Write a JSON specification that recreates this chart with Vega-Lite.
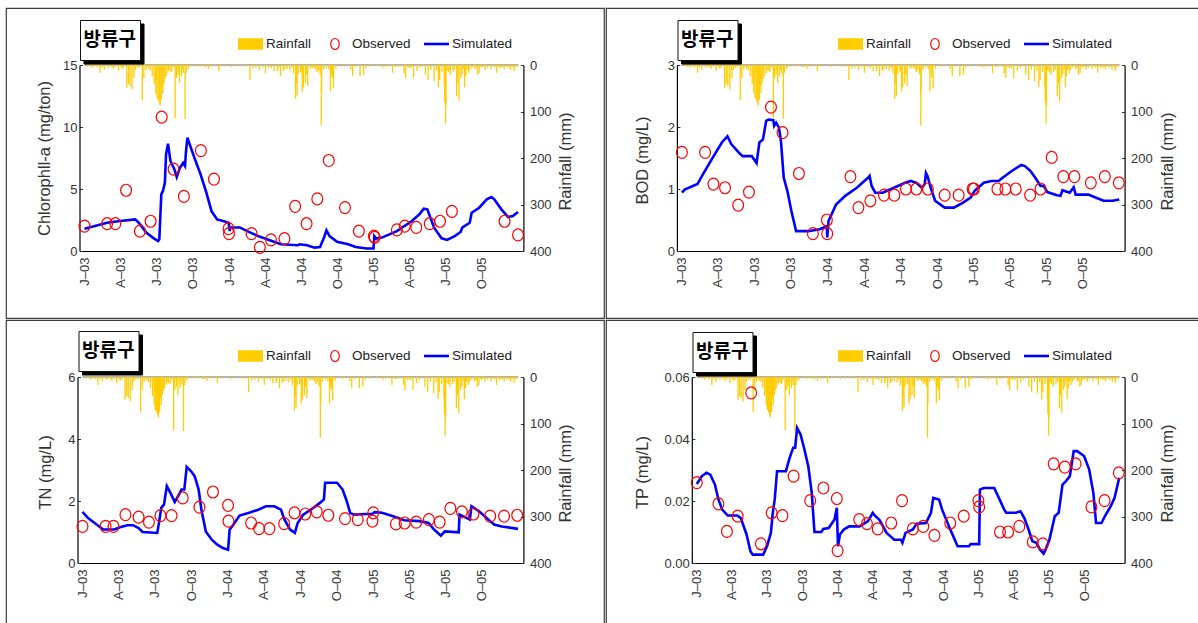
{
  "$schema": "https://vega.github.io/schema/vega-lite/v6.json",
  "background": "#ffffff",
  "padding": {"left": 5, "top": 7, "right": 0, "bottom": 0},
  "columns": 2,
  "spacing": 0,
  "datasets": {
    "rain": [
      {"d":"2003-01-08","r":3},{"d":"2003-01-15","r":4},{"d":"2003-01-21","r":6},{"d":"2003-01-28","r":3},{"d":"2003-02-02","r":5},{"d":"2003-02-09","r":17},{"d":"2003-02-14","r":6},{"d":"2003-02-20","r":10},{"d":"2003-03-02","r":6},{"d":"2003-03-08","r":4},{"d":"2003-03-12","r":5},{"d":"2003-03-16","r":8},{"d":"2003-03-22","r":4},{"d":"2003-03-28","r":13},{"d":"2003-04-03","r":5},{"d":"2003-04-06","r":8},{"d":"2003-04-10","r":6},{"d":"2003-04-18","r":49},{"d":"2003-04-22","r":41},{"d":"2003-04-26","r":45},{"d":"2003-05-01","r":52},{"d":"2003-05-06","r":28},{"d":"2003-05-10","r":10},{"d":"2003-05-15","r":6},{"d":"2003-05-20","r":5},{"d":"2003-05-27","r":76},{"d":"2003-05-31","r":28},{"d":"2003-06-05","r":10},{"d":"2003-06-08","r":4},{"d":"2003-06-12","r":8},{"d":"2003-06-16","r":12},{"d":"2003-06-21","r":24},{"d":"2003-06-26","r":41},{"d":"2003-06-30","r":60},{"d":"2003-07-01","r":35},{"d":"2003-07-03","r":71},{"d":"2003-07-06","r":76},{"d":"2003-07-09","r":82},{"d":"2003-07-11","r":87},{"d":"2003-07-14","r":75},{"d":"2003-07-16","r":45},{"d":"2003-07-18","r":60},{"d":"2003-07-21","r":39},{"d":"2003-07-23","r":30},{"d":"2003-07-26","r":24},{"d":"2003-07-31","r":17},{"d":"2003-08-02","r":10},{"d":"2003-08-05","r":13},{"d":"2003-08-09","r":15},{"d":"2003-08-13","r":6},{"d":"2003-08-18","r":114},{"d":"2003-08-21","r":28},{"d":"2003-08-25","r":21},{"d":"2003-08-27","r":12},{"d":"2003-08-29","r":39},{"d":"2003-09-03","r":24},{"d":"2003-09-05","r":9},{"d":"2003-09-08","r":17},{"d":"2003-09-12","r":116},{"d":"2003-09-15","r":17},{"d":"2003-09-20","r":8},{"d":"2003-09-24","r":4},{"d":"2003-10-05","r":3},{"d":"2003-10-14","r":4},{"d":"2003-10-20","r":3},{"d":"2003-10-30","r":4},{"d":"2003-11-03","r":5},{"d":"2003-11-10","r":8},{"d":"2003-11-18","r":4},{"d":"2003-11-25","r":3},{"d":"2003-12-06","r":13},{"d":"2003-12-12","r":4},{"d":"2003-12-20","r":3},
      {"d":"2004-01-08","r":5},{"d":"2004-01-20","r":3},{"d":"2004-02-06","r":4},{"d":"2004-02-15","r":4},{"d":"2004-02-23","r":32},{"d":"2004-03-02","r":8},{"d":"2004-03-09","r":6},{"d":"2004-03-18","r":10},{"d":"2004-03-27","r":5},{"d":"2004-04-02","r":17},{"d":"2004-04-10","r":5},{"d":"2004-04-17","r":7},{"d":"2004-04-24","r":13},{"d":"2004-05-02","r":13},{"d":"2004-05-05","r":5},{"d":"2004-05-10","r":24},{"d":"2004-05-17","r":13},{"d":"2004-05-21","r":9},{"d":"2004-05-27","r":8},{"d":"2004-06-03","r":12},{"d":"2004-06-08","r":6},{"d":"2004-06-12","r":18},{"d":"2004-06-17","r":73},{"d":"2004-06-19","r":40},{"d":"2004-06-21","r":66},{"d":"2004-06-24","r":20},{"d":"2004-06-30","r":16},{"d":"2004-07-01","r":10},{"d":"2004-07-04","r":57},{"d":"2004-07-07","r":48},{"d":"2004-07-12","r":39},{"d":"2004-07-15","r":21},{"d":"2004-07-18","r":45},{"d":"2004-07-25","r":8},{"d":"2004-07-29","r":6},{"d":"2004-08-02","r":6},{"d":"2004-08-06","r":9},{"d":"2004-08-10","r":15},{"d":"2004-08-14","r":12},{"d":"2004-08-18","r":20},{"d":"2004-08-21","r":130},{"d":"2004-08-22","r":57},{"d":"2004-08-27","r":10},{"d":"2004-09-03","r":6},{"d":"2004-09-09","r":9},{"d":"2004-09-13","r":57},{"d":"2004-09-16","r":21},{"d":"2004-09-18","r":28},{"d":"2004-09-21","r":50},{"d":"2004-09-27","r":8},{"d":"2004-10-10","r":3},{"d":"2004-10-18","r":4},{"d":"2004-11-03","r":9},{"d":"2004-11-08","r":24},{"d":"2004-11-15","r":5},{"d":"2004-11-27","r":24},{"d":"2004-12-06","r":21},{"d":"2004-12-12","r":6},{"d":"2004-12-22","r":4},
      {"d":"2005-01-10","r":3},{"d":"2005-01-18","r":4},{"d":"2005-01-26","r":6},{"d":"2005-02-03","r":4},{"d":"2005-02-10","r":3},{"d":"2005-02-17","r":17},{"d":"2005-02-25","r":5},{"d":"2005-03-03","r":4},{"d":"2005-03-09","r":3},{"d":"2005-03-18","r":17},{"d":"2005-03-22","r":28},{"d":"2005-03-28","r":6},{"d":"2005-04-01","r":5},{"d":"2005-04-05","r":7},{"d":"2005-04-11","r":28},{"d":"2005-04-20","r":13},{"d":"2005-04-27","r":6},{"d":"2005-05-03","r":3},{"d":"2005-05-11","r":21},{"d":"2005-05-18","r":32},{"d":"2005-05-25","r":10},{"d":"2005-06-02","r":35},{"d":"2005-06-08","r":12},{"d":"2005-06-13","r":48},{"d":"2005-06-16","r":32},{"d":"2005-06-22","r":15},{"d":"2005-06-28","r":46},{"d":"2005-06-29","r":80},{"d":"2005-07-01","r":126},{"d":"2005-07-02","r":87},{"d":"2005-07-05","r":12},{"d":"2005-07-09","r":15},{"d":"2005-07-13","r":21},{"d":"2005-07-20","r":15},{"d":"2005-07-24","r":10},{"d":"2005-07-29","r":67},{"d":"2005-08-01","r":39},{"d":"2005-08-04","r":77},{"d":"2005-08-09","r":28},{"d":"2005-08-12","r":20},{"d":"2005-08-15","r":8},{"d":"2005-08-18","r":48},{"d":"2005-08-21","r":24},{"d":"2005-08-24","r":10},{"d":"2005-08-28","r":17},{"d":"2005-09-01","r":10},{"d":"2005-09-06","r":6},{"d":"2005-09-13","r":9},{"d":"2005-09-16","r":7},{"d":"2005-09-20","r":21},{"d":"2005-09-24","r":17},{"d":"2005-09-28","r":5},{"d":"2005-10-01","r":5},{"d":"2005-10-04","r":4},{"d":"2005-10-09","r":10},{"d":"2005-10-15","r":6},{"d":"2005-10-24","r":9},{"d":"2005-10-29","r":4},{"d":"2005-11-02","r":5},{"d":"2005-11-07","r":17},{"d":"2005-11-12","r":4},{"d":"2005-11-16","r":6},{"d":"2005-11-21","r":6},{"d":"2005-11-26","r":9},{"d":"2005-12-03","r":5},{"d":"2005-12-08","r":6},{"d":"2005-12-13","r":10},{"d":"2005-12-17","r":4},{"d":"2005-12-21","r":13},{"d":"2005-12-25","r":4},{"d":"2005-12-29","r":3}
    ],
    "frame": [{"a": "2003-01-01", "b": "2006-01-01", "z": 0}],
    "chl_obs": [
      {"d":"2003-01-01","v":2.0},{"d":"2003-02-27","v":2.2},{"d":"2003-03-20","v":2.2},{"d":"2003-04-16","v":4.9},{"d":"2003-05-21","v":1.6},{"d":"2003-06-17","v":2.4},{"d":"2003-07-15","v":10.8},{"d":"2003-08-14","v":6.6},{"d":"2003-09-09","v":4.4},{"d":"2003-10-22","v":8.1},{"d":"2003-11-24","v":5.8},{"d":"2003-12-31","v":1.8},{"d":"2004-01-01","v":1.4},{"d":"2004-02-27","v":1.4},{"d":"2004-03-19","v":0.3},{"d":"2004-04-16","v":0.9},{"d":"2004-05-20","v":1.0},{"d":"2004-06-16","v":3.6},{"d":"2004-07-15","v":2.2},{"d":"2004-08-11","v":4.2},{"d":"2004-09-09","v":7.3},{"d":"2004-10-20","v":3.5},{"d":"2004-11-24","v":1.6},{"d":"2005-01-01","v":1.2},{"d":"2005-01-03","v":1.1},{"d":"2005-02-28","v":1.7},{"d":"2005-03-20","v":2.0},{"d":"2005-04-18","v":1.9},{"d":"2005-05-22","v":2.2},{"d":"2005-06-17","v":2.4},{"d":"2005-07-17","v":3.2},{"d":"2005-11-27","v":2.4},{"d":"2005-12-31","v":1.3}
    ],
    "chl_sim": [
      {"d":"2003-01-01","v":1.8},{"d":"2003-01-25","v":2.0},{"d":"2003-02-27","v":2.28},{"d":"2003-04-01","v":2.42},{"d":"2003-05-09","v":2.55},{"d":"2003-05-18","v":2.28},{"d":"2003-06-06","v":1.48},{"d":"2003-06-25","v":1.02},{"d":"2003-07-06","v":0.8},{"d":"2003-07-09","v":0.94},{"d":"2003-07-14","v":4.57},{"d":"2003-07-18","v":4.84},{"d":"2003-07-23","v":5.5},{"d":"2003-07-26","v":7.8},{"d":"2003-07-31","v":8.66},{"d":"2003-08-06","v":7.26},{"d":"2003-08-16","v":6.6},{"d":"2003-08-22","v":5.97},{"d":"2003-08-30","v":6.7},{"d":"2003-09-07","v":7.1},{"d":"2003-09-12","v":6.85},{"d":"2003-09-14","v":7.9},{"d":"2003-09-18","v":9.14},{"d":"2003-09-27","v":8.3},{"d":"2003-10-07","v":7.4},{"d":"2003-10-21","v":6.2},{"d":"2003-11-04","v":4.8},{"d":"2003-11-18","v":3.2},{"d":"2003-12-02","v":2.55},{"d":"2003-12-17","v":2.42},{"d":"2003-12-31","v":2.28},{"d":"2004-01-03","v":1.6},{"d":"2004-01-04","v":1.9},{"d":"2004-01-28","v":1.9},{"d":"2004-02-16","v":1.6},{"d":"2004-03-15","v":1.2},{"d":"2004-04-13","v":0.86},{"d":"2004-05-11","v":0.54},{"d":"2004-06-23","v":0.46},{"d":"2004-06-27","v":0.54},{"d":"2004-07-16","v":0.46},{"d":"2004-08-04","v":0.27},{"d":"2004-08-18","v":0.32},{"d":"2004-08-28","v":1.08},{"d":"2004-09-03","v":1.67},{"d":"2004-09-11","v":1.2},{"d":"2004-09-30","v":0.75},{"d":"2004-10-28","v":0.54},{"d":"2004-11-16","v":0.32},{"d":"2004-12-14","v":0.2},{"d":"2004-12-31","v":0.2},{"d":"2005-01-02","v":1.2},{"d":"2005-01-07","v":1.0},{"d":"2005-01-21","v":1.08},{"d":"2005-02-28","v":1.6},{"d":"2005-04-07","v":2.42},{"d":"2005-04-26","v":2.96},{"d":"2005-05-07","v":3.41},{"d":"2005-05-16","v":3.36},{"d":"2005-06-02","v":1.88},{"d":"2005-06-21","v":1.02},{"d":"2005-07-05","v":0.89},{"d":"2005-07-24","v":1.2},{"d":"2005-08-08","v":1.53},{"d":"2005-08-12","v":1.88},{"d":"2005-08-31","v":2.28},{"d":"2005-09-05","v":3.09},{"d":"2005-09-24","v":3.49},{"d":"2005-10-13","v":4.17},{"d":"2005-10-25","v":4.35},{"d":"2005-11-01","v":4.17},{"d":"2005-11-19","v":3.36},{"d":"2005-12-06","v":2.74},{"d":"2005-12-18","v":2.82},{"d":"2005-12-31","v":3.15}
    ],
    "bod_obs": [
      {"d":"2003-01-01","v":1.59},{"d":"2003-02-28","v":1.59},{"d":"2003-03-21","v":1.08},{"d":"2003-04-19","v":1.02},{"d":"2003-05-22","v":0.74},{"d":"2003-06-18","v":0.95},{"d":"2003-08-12","v":2.32},{"d":"2003-09-10","v":1.91},{"d":"2003-10-21","v":1.25},{"d":"2003-11-25","v":0.28},{"d":"2003-12-30","v":0.5},{"d":"2003-12-31","v":0.28},{"d":"2004-02-27","v":1.2},{"d":"2004-03-18","v":0.7},{"d":"2004-04-17","v":0.81},{"d":"2004-05-21","v":0.9},{"d":"2004-06-16","v":0.9},{"d":"2004-07-15","v":1.0},{"d":"2004-08-10","v":1.0},{"d":"2004-09-08","v":1.0},{"d":"2004-10-20","v":0.9},{"d":"2004-11-24","v":0.9},{"d":"2004-12-29","v":1.0},{"d":"2005-01-01","v":1.0},{"d":"2005-03-01","v":1.0},{"d":"2005-03-21","v":1.0},{"d":"2005-04-16","v":1.0},{"d":"2005-05-22","v":0.9},{"d":"2005-06-17","v":1.0},{"d":"2005-07-15","v":1.51},{"d":"2005-08-13","v":1.2},{"d":"2005-09-10","v":1.2},{"d":"2005-10-21","v":1.1},{"d":"2005-11-25","v":1.2},{"d":"2005-12-30","v":1.1}
    ],
    "bod_sim": [
      {"d":"2003-01-01","v":0.94},{"d":"2003-01-08","v":0.99},{"d":"2003-02-09","v":1.08},{"d":"2003-02-23","v":1.24},{"d":"2003-03-14","v":1.45},{"d":"2003-04-11","v":1.75},{"d":"2003-04-25","v":1.85},{"d":"2003-05-05","v":1.72},{"d":"2003-05-23","v":1.59},{"d":"2003-06-02","v":1.53},{"d":"2003-06-25","v":1.53},{"d":"2003-07-07","v":1.42},{"d":"2003-07-14","v":1.75},{"d":"2003-07-23","v":1.8},{"d":"2003-07-31","v":2.1},{"d":"2003-08-06","v":2.12},{"d":"2003-08-18","v":2.11},{"d":"2003-08-20","v":2.02},{"d":"2003-08-25","v":2.07},{"d":"2003-09-01","v":1.99},{"d":"2003-09-06","v":1.77},{"d":"2003-09-13","v":1.18},{"d":"2003-09-22","v":0.97},{"d":"2003-10-02","v":0.65},{"d":"2003-10-14","v":0.32},{"d":"2003-11-13","v":0.32},{"d":"2003-12-12","v":0.35},{"d":"2003-12-30","v":0.4},{"d":"2003-12-31","v":0.22},{"d":"2004-01-03","v":0.48},{"d":"2004-01-22","v":0.75},{"d":"2004-02-14","v":0.89},{"d":"2004-03-14","v":1.02},{"d":"2004-04-11","v":1.18},{"d":"2004-04-15","v":1.21},{"d":"2004-04-20","v":1.05},{"d":"2004-04-29","v":0.94},{"d":"2004-05-18","v":0.94},{"d":"2004-06-15","v":1.02},{"d":"2004-07-13","v":1.1},{"d":"2004-07-27","v":1.13},{"d":"2004-08-10","v":1.1},{"d":"2004-08-24","v":1.02},{"d":"2004-08-31","v":1.08},{"d":"2004-09-03","v":1.26},{"d":"2004-09-07","v":1.21},{"d":"2004-09-15","v":1.02},{"d":"2004-09-26","v":0.81},{"d":"2004-10-20","v":0.7},{"d":"2004-11-12","v":0.7},{"d":"2004-12-05","v":0.78},{"d":"2004-12-24","v":0.86},{"d":"2005-01-03","v":0.97},{"d":"2005-01-26","v":1.1},{"d":"2005-02-14","v":1.13},{"d":"2005-03-04","v":1.13},{"d":"2005-03-14","v":1.18},{"d":"2005-04-06","v":1.29},{"d":"2005-04-30","v":1.39},{"d":"2005-05-09","v":1.37},{"d":"2005-05-23","v":1.29},{"d":"2005-06-06","v":1.16},{"d":"2005-06-17","v":1.05},{"d":"2005-06-25","v":1.05},{"d":"2005-07-04","v":0.95},{"d":"2005-07-28","v":0.9},{"d":"2005-08-06","v":0.89},{"d":"2005-08-11","v":0.98},{"d":"2005-08-29","v":0.94},{"d":"2005-09-08","v":1.03},{"d":"2005-09-13","v":0.91},{"d":"2005-10-15","v":0.91},{"d":"2005-11-03","v":0.86},{"d":"2005-11-22","v":0.81},{"d":"2005-12-15","v":0.81},{"d":"2005-12-31","v":0.83}
    ],
    "tn_obs": [
      {"d":"2003-01-01","v":1.18},{"d":"2003-02-28","v":1.18},{"d":"2003-03-20","v":1.18},{"d":"2003-04-19","v":1.56},{"d":"2003-05-22","v":1.48},{"d":"2003-06-17","v":1.32},{"d":"2003-07-16","v":1.53},{"d":"2003-08-13","v":1.53},{"d":"2003-09-10","v":2.1},{"d":"2003-10-22","v":1.8},{"d":"2003-11-25","v":2.29},{"d":"2004-01-02","v":1.86},{"d":"2004-01-03","v":1.35},{"d":"2004-02-29","v":1.29},{"d":"2004-03-20","v":1.11},{"d":"2004-04-15","v":1.11},{"d":"2004-05-22","v":1.27},{"d":"2004-06-17","v":1.62},{"d":"2004-07-14","v":1.58},{"d":"2004-08-12","v":1.65},{"d":"2004-09-10","v":1.54},{"d":"2004-10-22","v":1.43},{"d":"2004-11-23","v":1.4},{"d":"2004-12-30","v":1.35},{"d":"2005-01-01","v":1.62},{"d":"2005-02-27","v":1.26},{"d":"2005-03-21","v":1.29},{"d":"2005-04-19","v":1.32},{"d":"2005-05-21","v":1.4},{"d":"2005-06-17","v":1.32},{"d":"2005-07-14","v":1.76},{"d":"2005-08-12","v":1.65},{"d":"2005-09-10","v":1.58},{"d":"2005-10-22","v":1.51},{"d":"2005-11-26","v":1.51},{"d":"2005-12-29","v":1.54}
    ],
    "tn_sim": [
      {"d":"2003-01-01","v":1.65},{"d":"2003-01-15","v":1.45},{"d":"2003-02-08","v":1.22},{"d":"2003-02-22","v":1.08},{"d":"2003-03-22","v":1.08},{"d":"2003-04-05","v":1.15},{"d":"2003-04-24","v":1.22},{"d":"2003-05-08","v":1.22},{"d":"2003-05-22","v":1.13},{"d":"2003-06-01","v":1.0},{"d":"2003-07-08","v":0.97},{"d":"2003-07-13","v":1.35},{"d":"2003-07-18","v":1.78},{"d":"2003-07-25","v":1.89},{"d":"2003-08-01","v":2.48},{"d":"2003-08-10","v":2.26},{"d":"2003-08-21","v":1.97},{"d":"2003-08-29","v":2.15},{"d":"2003-09-07","v":2.37},{"d":"2003-09-14","v":2.37},{"d":"2003-09-20","v":3.1},{"d":"2003-10-01","v":2.96},{"d":"2003-10-10","v":2.8},{"d":"2003-10-20","v":2.37},{"d":"2003-10-27","v":1.72},{"d":"2003-11-07","v":1.02},{"d":"2003-11-22","v":0.75},{"d":"2003-12-06","v":0.59},{"d":"2003-12-20","v":0.48},{"d":"2004-01-02","v":0.43},{"d":"2004-01-06","v":1.08},{"d":"2004-01-12","v":1.18},{"d":"2004-01-31","v":1.53},{"d":"2004-02-24","v":1.62},{"d":"2004-03-18","v":1.72},{"d":"2004-04-06","v":1.83},{"d":"2004-04-27","v":1.83},{"d":"2004-05-14","v":1.72},{"d":"2004-05-23","v":1.4},{"d":"2004-06-06","v":1.08},{"d":"2004-06-18","v":0.97},{"d":"2004-06-25","v":1.29},{"d":"2004-07-09","v":1.56},{"d":"2004-07-28","v":1.72},{"d":"2004-08-20","v":1.94},{"d":"2004-08-30","v":2.05},{"d":"2004-09-02","v":2.59},{"d":"2004-10-02","v":2.59},{"d":"2004-10-16","v":2.37},{"d":"2004-10-25","v":2.05},{"d":"2004-11-04","v":1.62},{"d":"2004-11-13","v":1.56},{"d":"2004-12-16","v":1.58},{"d":"2004-12-30","v":1.58},{"d":"2005-01-04","v":1.64},{"d":"2005-01-23","v":1.62},{"d":"2005-02-20","v":1.51},{"d":"2005-03-20","v":1.38},{"d":"2005-04-27","v":1.35},{"d":"2005-05-20","v":1.29},{"d":"2005-06-03","v":1.08},{"d":"2005-06-20","v":0.88},{"d":"2005-06-30","v":1.02},{"d":"2005-08-04","v":0.99},{"d":"2005-08-06","v":1.56},{"d":"2005-09-01","v":1.4},{"d":"2005-09-05","v":1.83},{"d":"2005-09-24","v":1.67},{"d":"2005-10-22","v":1.35},{"d":"2005-11-01","v":1.24},{"d":"2005-11-20","v":1.18},{"d":"2005-12-31","v":1.1}
    ],
    "tp_obs": [
      {"d":"2003-01-01","v":0.0259},{"d":"2003-02-26","v":0.0191},{"d":"2003-03-20","v":0.0102},{"d":"2003-04-17","v":0.0151},{"d":"2003-05-22","v":0.0549},{"d":"2003-06-16","v":0.0062},{"d":"2003-07-14","v":0.0162},{"d":"2003-08-11","v":0.0153},{"d":"2003-09-09","v":0.028},{"d":"2003-10-22","v":0.0201},{"d":"2003-11-25","v":0.0242},{"d":"2003-12-30","v":0.0208},{"d":"2004-01-01","v":0.004},{"d":"2004-02-26","v":0.014},{"d":"2004-03-17","v":0.0127},{"d":"2004-04-14","v":0.011},{"d":"2004-05-19","v":0.0129},{"d":"2004-06-16","v":0.0201},{"d":"2004-07-14","v":0.011},{"d":"2004-08-10","v":0.0118},{"d":"2004-09-08","v":0.0089},{"d":"2004-10-19","v":0.0129},{"d":"2004-11-23","v":0.0151},{"d":"2004-12-31","v":0.0201},{"d":"2005-01-02","v":0.0181},{"d":"2005-02-25","v":0.01},{"d":"2005-03-18","v":0.01},{"d":"2005-04-16","v":0.0118},{"d":"2005-05-21","v":0.0068},{"d":"2005-06-16","v":0.0062},{"d":"2005-07-14","v":0.032},{"d":"2005-08-12","v":0.0309},{"d":"2005-09-09","v":0.032},{"d":"2005-10-20","v":0.0181},{"d":"2005-11-23","v":0.0201},{"d":"2005-12-30","v":0.0291}
    ],
    "tp_sim": [
      {"d":"2003-01-01","v":0.0255},{"d":"2003-01-14","v":0.028},{"d":"2003-01-26","v":0.0291},{"d":"2003-02-05","v":0.0285},{"d":"2003-02-17","v":0.0253},{"d":"2003-02-26","v":0.0205},{"d":"2003-03-08","v":0.0172},{"d":"2003-03-22","v":0.0153},{"d":"2003-04-16","v":0.0153},{"d":"2003-04-25","v":0.0145},{"d":"2003-05-10","v":0.0092},{"d":"2003-05-20","v":0.0038},{"d":"2003-05-26","v":0.0027},{"d":"2003-06-22","v":0.0027},{"d":"2003-07-02","v":0.0054},{"d":"2003-07-12","v":0.0097},{"d":"2003-07-17","v":0.0162},{"d":"2003-07-22","v":0.0205},{"d":"2003-07-28","v":0.0296},{"d":"2003-08-02","v":0.0296},{"d":"2003-08-20","v":0.0296},{"d":"2003-08-27","v":0.0328},{"d":"2003-09-03","v":0.0355},{"d":"2003-09-08","v":0.0372},{"d":"2003-09-13","v":0.0372},{"d":"2003-09-18","v":0.0436},{"d":"2003-09-27","v":0.0415},{"d":"2003-10-07","v":0.0366},{"d":"2003-10-17","v":0.0312},{"d":"2003-10-26","v":0.0226},{"d":"2003-11-02","v":0.01},{"d":"2003-11-20","v":0.01},{"d":"2003-11-25","v":0.011},{"d":"2003-12-09","v":0.0113},{"d":"2003-12-24","v":0.014},{"d":"2003-12-30","v":0.0178},{"d":"2004-01-02","v":0.0054},{"d":"2004-01-07","v":0.0092},{"d":"2004-01-17","v":0.0108},{"d":"2004-01-31","v":0.0118},{"d":"2004-02-27","v":0.0118},{"d":"2004-03-20","v":0.0135},{"d":"2004-04-01","v":0.0162},{"d":"2004-04-08","v":0.0151},{"d":"2004-04-18","v":0.014},{"d":"2004-05-07","v":0.0097},{"d":"2004-05-27","v":0.0075},{"d":"2004-06-13","v":0.0075},{"d":"2004-06-17","v":0.0065},{"d":"2004-06-25","v":0.0097},{"d":"2004-07-14","v":0.0108},{"d":"2004-07-24","v":0.0127},{"d":"2004-08-17","v":0.0129},{"d":"2004-08-30","v":0.0162},{"d":"2004-09-05","v":0.021},{"d":"2004-09-20","v":0.0205},{"d":"2004-09-28","v":0.0172},{"d":"2004-10-19","v":0.0108},{"d":"2004-10-27","v":0.0086},{"d":"2004-11-07","v":0.0054},{"d":"2004-12-06","v":0.0054},{"d":"2004-12-11","v":0.0061},{"d":"2005-01-02","v":0.0061},{"d":"2005-01-04","v":0.0237},{"d":"2005-01-14","v":0.0242},{"d":"2005-02-10","v":0.0242},{"d":"2005-02-22","v":0.021},{"d":"2005-03-08","v":0.0172},{"d":"2005-03-13","v":0.0162},{"d":"2005-04-07","v":0.0162},{"d":"2005-04-19","v":0.0167},{"d":"2005-04-29","v":0.0145},{"d":"2005-05-10","v":0.0108},{"d":"2005-05-20","v":0.007},{"d":"2005-05-30","v":0.0065},{"d":"2005-06-09","v":0.0043},{"d":"2005-06-18","v":0.003},{"d":"2005-06-23","v":0.0043},{"d":"2005-07-03","v":0.0075},{"d":"2005-07-17","v":0.0151},{"d":"2005-07-27","v":0.0162},{"d":"2005-08-06","v":0.0253},{"d":"2005-08-15","v":0.0264},{"d":"2005-08-25","v":0.028},{"d":"2005-09-04","v":0.0361},{"d":"2005-09-13","v":0.0361},{"d":"2005-10-01","v":0.0345},{"d":"2005-10-14","v":0.0302},{"d":"2005-10-25","v":0.0226},{"d":"2005-11-01","v":0.0129},{"d":"2005-11-15","v":0.0129},{"d":"2005-11-24","v":0.0151},{"d":"2005-12-09","v":0.0183},{"d":"2005-12-19","v":0.021},{"d":"2005-12-31","v":0.0275}
    ]
  },
  "concat": [
    {
      "width": 598, "height": 310,
      "layer": [
        {"data": {"values": [{"s": "방류구"}]}, "mark": {"type": "point", "opacity": 0},
         "encoding": {"shape": {"field": "s", "type": "nominal", "scale": {"range": ["M0,-1V1"]},
           "legend": {"orient": "none", "legendX": 77.5, "legendY": 15.5, "title": null, "fillColor": "#000000", "strokeColor": "#000000", "padding": 3.5, "symbolSize": 1089, "symbolOpacity": 0, "symbolStrokeWidth": 0, "labelOffset": -33, "labelFont": "Noto Sans CJK KR", "labelFontWeight": "bold", "labelFontSize": 19, "labelColor": "#000000", "labelLimit": 300}}}},
        {"data": {"values": [{"t": "방류구"}]}, "mark": {"type": "point", "opacity": 0},
         "encoding": {"shape": {"field": "t", "type": "nominal", "scale": {"range": ["M0,-1V1"]},
           "legend": {"orient": "none", "legendX": 74, "legendY": 12, "title": null, "fillColor": "#ffffff", "strokeColor": "#111111", "padding": 3.5, "symbolSize": 1089, "symbolOpacity": 0, "symbolStrokeWidth": 0, "labelOffset": -33, "labelFont": "Noto Sans CJK KR", "labelFontWeight": "bold", "labelFontSize": 19, "labelColor": "#000000", "labelLimit": 300}}}},
        {"layer": [
          {"data": {"name": "frame"}, "mark": {"type": "rule", "color": "#9a9a9a", "strokeWidth": 1.5},
           "encoding": {"x": {"field": "a", "type": "temporal"}, "x2": {"field": "b"}, "y": {"field": "z", "type": "quantitative"}}},
          {"data": {"name": "rain"}, "mark": {"type": "bar", "width": 1.3},
           "encoding": {
             "x": {"field": "d", "type": "temporal",
               "scale": {"domain": [{"year": 2003, "month": 1, "date": 1}, {"year": 2006, "month": 1, "date": 1}], "range": [73.5, 517.4]},
               "axis": {"orient": "bottom", "offset": -67, "title": null, "ticks": false, "labelAngle": 270, "labelAlign": "right", "labelBaseline": "middle", "labelPadding": 6,
                 "labelExpr": "substring(timeFormat(datum.value, '%b'), 0, 1) + '–' + timeFormat(datum.value, '%y')",
                 "values": [{"year":2003,"month":1,"date":1},{"year":2003,"month":4,"date":1},{"year":2003,"month":7,"date":1},{"year":2003,"month":10,"date":1},{"year":2004,"month":1,"date":1},{"year":2004,"month":4,"date":1},{"year":2004,"month":7,"date":1},{"year":2004,"month":10,"date":1},{"year":2005,"month":1,"date":1},{"year":2005,"month":4,"date":1},{"year":2005,"month":7,"date":1},{"year":2005,"month":10,"date":1}]}},
             "y": {"field": "r", "type": "quantitative", "scale": {"domain": [0, 400], "range": [57, 243], "nice": false},
               "axis": {"orient": "right", "offset": -80.6, "values": [0, 100, 200, 300, 400], "title": "Rainfall (mm)", "titleAngle": 270, "titleBaseline": "middle", "titleX": 42.5, "titleY": 153, "tickSize": -3, "labelPadding": 9}},
             "fill": {"datum": "Rainfall", "type": "nominal", "scale": {"range": ["#FFCC00"]},
               "legend": {"orient": "none", "legendX": 232, "legendY": 23.5, "title": null, "symbolType": "M-1,-0.46H1V0.46H-1Z", "symbolSize": 625, "symbolStrokeWidth": 0, "labelFontSize": 13.5, "labelFont": "Liberation Sans", "labelColor": "#222222", "labelOffset": 3, "padding": 0}}
           }}
        ]},
        {"layer": [
          {"data": {"name": "chl_sim"}, "mark": {"type": "line", "strokeWidth": 2.6},
           "encoding": {
             "x": {"field": "d", "type": "temporal"},
             "y": {"field": "v", "type": "quantitative", "scale": {"domain": [0, 15], "range": [243, 57], "nice": false, "zero": false},
               "axis": {"orient": "left", "offset": -73.5, "values": [0, 5, 10, 15], "format": "d", "title": "Chlorophll-a (mg/ton)", "titleAngle": 270, "titleBaseline": "middle", "titleX": -35, "titleY": 150, "tickSize": -3, "labelPadding": 5.5}},
             "stroke": {"datum": "Simulated", "type": "nominal", "scale": {"range": ["#0000FF"]},
               "legend": {"orient": "none", "legendX": 416.5, "legendY": 22, "title": null, "symbolType": "M-1,0H1", "symbolSize": 625, "symbolStrokeWidth": 2.6, "labelFontSize": 13.5, "labelFont": "Liberation Sans", "labelColor": "#222222", "labelOffset": 1.5, "padding": 0}}}},
          {"data": {"name": "chl_obs"}, "mark": {"type": "point", "shape": "M-0.9,0A0.9,1 0 1,0 0.9,0A0.9,1 0 1,0 -0.9,0Z", "size": 144, "filled": false, "strokeWidth": 1.2, "opacity": 1},
           "encoding": {
             "x": {"field": "d", "type": "temporal"},
             "y": {"field": "v", "type": "quantitative"},
             "color": {"datum": "Observed", "type": "nominal", "scale": {"range": ["#FF0000"]},
               "legend": {"orient": "none", "legendX": 315.5, "legendY": 22.5, "title": null, "symbolType": "M-0.34,0A0.34,0.44 0 1,0 0.34,0A0.34,0.44 0 1,0 -0.34,0Z", "symbolSize": 625, "symbolStrokeWidth": 1.2, "labelFontSize": 13.5, "labelFont": "Liberation Sans", "labelColor": "#222222", "labelOffset": 3.5, "padding": 0}}}}
        ]}
      ],
      "resolve": {"scale": {"y": "independent", "shape": "independent"}}
    },
    {
      "width": 594, "height": 310,
      "view": {"strokeDash": [594, 310, 904, 0]},
      "layer": [
        {"data": {"values": [{"s": "방류구"}]}, "mark": {"type": "point", "opacity": 0},
         "encoding": {"shape": {"field": "s", "type": "nominal", "scale": {"range": ["M0,-1V1"]},
           "legend": {"orient": "none", "legendX": 75, "legendY": 15.5, "title": null, "fillColor": "#000000", "strokeColor": "#000000", "padding": 3.5, "symbolSize": 1089, "symbolOpacity": 0, "symbolStrokeWidth": 0, "labelOffset": -33, "labelFont": "Noto Sans CJK KR", "labelFontWeight": "bold", "labelFontSize": 19, "labelColor": "#000000", "labelLimit": 300}}}},
        {"data": {"values": [{"t": "방류구"}]}, "mark": {"type": "point", "opacity": 0},
         "encoding": {"shape": {"field": "t", "type": "nominal", "scale": {"range": ["M0,-1V1"]},
           "legend": {"orient": "none", "legendX": 71.5, "legendY": 12, "title": null, "fillColor": "#ffffff", "strokeColor": "#111111", "padding": 3.5, "symbolSize": 1089, "symbolOpacity": 0, "symbolStrokeWidth": 0, "labelOffset": -33, "labelFont": "Noto Sans CJK KR", "labelFontWeight": "bold", "labelFontSize": 19, "labelColor": "#000000", "labelLimit": 300}}}},
        {"layer": [
          {"data": {"name": "frame"}, "mark": {"type": "rule", "color": "#9a9a9a", "strokeWidth": 1.5},
           "encoding": {"x": {"field": "a", "type": "temporal"}, "x2": {"field": "b"}, "y": {"field": "z", "type": "quantitative"}}},
          {"data": {"name": "rain"}, "mark": {"type": "bar", "width": 1.3},
           "encoding": {
             "x": {"field": "d", "type": "temporal",
               "scale": {"domain": [{"year": 2003, "month": 1, "date": 1}, {"year": 2006, "month": 1, "date": 1}], "range": [70.9, 518.6]},
               "axis": {"orient": "bottom", "offset": -67, "title": null, "ticks": false, "labelAngle": 270, "labelAlign": "right", "labelBaseline": "middle", "labelPadding": 6,
                 "labelExpr": "substring(timeFormat(datum.value, '%b'), 0, 1) + '–' + timeFormat(datum.value, '%y')",
                 "values": [{"year":2003,"month":1,"date":1},{"year":2003,"month":4,"date":1},{"year":2003,"month":7,"date":1},{"year":2003,"month":10,"date":1},{"year":2004,"month":1,"date":1},{"year":2004,"month":4,"date":1},{"year":2004,"month":7,"date":1},{"year":2004,"month":10,"date":1},{"year":2005,"month":1,"date":1},{"year":2005,"month":4,"date":1},{"year":2005,"month":7,"date":1},{"year":2005,"month":10,"date":1}]}},
             "y": {"field": "r", "type": "quantitative", "scale": {"domain": [0, 400], "range": [57, 243], "nice": false},
               "axis": {"orient": "right", "offset": -75.4, "values": [0, 100, 200, 300, 400], "title": "Rainfall (mm)", "titleAngle": 270, "titleBaseline": "middle", "titleX": 43, "titleY": 153, "tickSize": -3, "labelPadding": 9}},
             "fill": {"datum": "Rainfall", "type": "nominal", "scale": {"range": ["#FFCC00"]},
               "legend": {"orient": "none", "legendX": 232, "legendY": 23.5, "title": null, "symbolType": "M-1,-0.46H1V0.46H-1Z", "symbolSize": 625, "symbolStrokeWidth": 0, "labelFontSize": 13.5, "labelFont": "Liberation Sans", "labelColor": "#222222", "labelOffset": 3, "padding": 0}}
           }}
        ]},
        {"layer": [
          {"data": {"name": "bod_sim"}, "mark": {"type": "line", "strokeWidth": 2.6},
           "encoding": {
             "x": {"field": "d", "type": "temporal"},
             "y": {"field": "v", "type": "quantitative", "scale": {"domain": [0, 3], "range": [243, 57], "nice": false, "zero": false},
               "axis": {"orient": "left", "offset": -70.9, "values": [0, 1, 2, 3], "format": "d", "title": "BOD (mg/L)", "titleAngle": 270, "titleBaseline": "middle", "titleX": -34, "titleY": 152, "tickSize": -3, "labelPadding": 5.5}},
             "stroke": {"datum": "Simulated", "type": "nominal", "scale": {"range": ["#0000FF"]},
               "legend": {"orient": "none", "legendX": 416.5, "legendY": 22, "title": null, "symbolType": "M-1,0H1", "symbolSize": 625, "symbolStrokeWidth": 2.6, "labelFontSize": 13.5, "labelFont": "Liberation Sans", "labelColor": "#222222", "labelOffset": 1.5, "padding": 0}}}},
          {"data": {"name": "bod_obs"}, "mark": {"type": "point", "shape": "M-0.9,0A0.9,1 0 1,0 0.9,0A0.9,1 0 1,0 -0.9,0Z", "size": 144, "filled": false, "strokeWidth": 1.2, "opacity": 1},
           "encoding": {
             "x": {"field": "d", "type": "temporal"},
             "y": {"field": "v", "type": "quantitative"},
             "color": {"datum": "Observed", "type": "nominal", "scale": {"range": ["#FF0000"]},
               "legend": {"orient": "none", "legendX": 315.5, "legendY": 22.5, "title": null, "symbolType": "M-0.34,0A0.34,0.44 0 1,0 0.34,0A0.34,0.44 0 1,0 -0.34,0Z", "symbolSize": 625, "symbolStrokeWidth": 1.2, "labelFontSize": 13.5, "labelFont": "Liberation Sans", "labelColor": "#222222", "labelOffset": 3.5, "padding": 0}}}}
        ]}
      ],
      "resolve": {"scale": {"y": "independent", "shape": "independent"}}
    },
    {
      "width": 598, "height": 305,
      "view": {"strokeDash": [903, 598, 305, 0]},
      "layer": [
        {"data": {"values": [{"s": "방류구"}]}, "mark": {"type": "point", "opacity": 0},
         "encoding": {"shape": {"field": "s", "type": "nominal", "scale": {"range": ["M0,-1V1"]},
           "legend": {"orient": "none", "legendX": 76, "legendY": 14.5, "title": null, "fillColor": "#000000", "strokeColor": "#000000", "padding": 3.5, "symbolSize": 1089, "symbolOpacity": 0, "symbolStrokeWidth": 0, "labelOffset": -33, "labelFont": "Noto Sans CJK KR", "labelFontWeight": "bold", "labelFontSize": 19, "labelColor": "#000000", "labelLimit": 300}}}},
        {"data": {"values": [{"t": "방류구"}]}, "mark": {"type": "point", "opacity": 0},
         "encoding": {"shape": {"field": "t", "type": "nominal", "scale": {"range": ["M0,-1V1"]},
           "legend": {"orient": "none", "legendX": 72.5, "legendY": 11, "title": null, "fillColor": "#ffffff", "strokeColor": "#111111", "padding": 3.5, "symbolSize": 1089, "symbolOpacity": 0, "symbolStrokeWidth": 0, "labelOffset": -33, "labelFont": "Noto Sans CJK KR", "labelFontWeight": "bold", "labelFontSize": 19, "labelColor": "#000000", "labelLimit": 300}}}},
        {"layer": [
          {"data": {"name": "frame"}, "mark": {"type": "rule", "color": "#9a9a9a", "strokeWidth": 1.5},
           "encoding": {"x": {"field": "a", "type": "temporal"}, "x2": {"field": "b"}, "y": {"field": "z", "type": "quantitative"}}},
          {"data": {"name": "rain"}, "mark": {"type": "bar", "width": 1.3},
           "encoding": {
             "x": {"field": "d", "type": "temporal",
               "scale": {"domain": [{"year": 2003, "month": 1, "date": 1}, {"year": 2006, "month": 1, "date": 1}], "range": [71.5, 517.4]},
               "axis": {"orient": "bottom", "offset": -62, "title": null, "ticks": false, "labelAngle": 270, "labelAlign": "right", "labelBaseline": "middle", "labelPadding": 6,
                 "labelExpr": "substring(timeFormat(datum.value, '%b'), 0, 1) + '–' + timeFormat(datum.value, '%y')",
                 "values": [{"year":2003,"month":1,"date":1},{"year":2003,"month":4,"date":1},{"year":2003,"month":7,"date":1},{"year":2003,"month":10,"date":1},{"year":2004,"month":1,"date":1},{"year":2004,"month":4,"date":1},{"year":2004,"month":7,"date":1},{"year":2004,"month":10,"date":1},{"year":2005,"month":1,"date":1},{"year":2005,"month":4,"date":1},{"year":2005,"month":7,"date":1},{"year":2005,"month":10,"date":1}]}},
             "y": {"field": "r", "type": "quantitative", "scale": {"domain": [0, 400], "range": [57, 243], "nice": false},
               "axis": {"orient": "right", "offset": -80.6, "values": [0, 100, 200, 300, 400], "title": "Rainfall (mm)", "titleAngle": 270, "titleBaseline": "middle", "titleX": 42.5, "titleY": 153, "tickSize": -3, "labelPadding": 9}},
             "fill": {"datum": "Rainfall", "type": "nominal", "scale": {"range": ["#FFCC00"]},
               "legend": {"orient": "none", "legendX": 232, "legendY": 23.5, "title": null, "symbolType": "M-1,-0.46H1V0.46H-1Z", "symbolSize": 625, "symbolStrokeWidth": 0, "labelFontSize": 13.5, "labelFont": "Liberation Sans", "labelColor": "#222222", "labelOffset": 3, "padding": 0}}
           }}
        ]},
        {"layer": [
          {"data": {"name": "tn_sim"}, "mark": {"type": "line", "strokeWidth": 2.6},
           "encoding": {
             "x": {"field": "d", "type": "temporal"},
             "y": {"field": "v", "type": "quantitative", "scale": {"domain": [0, 6], "range": [243, 57], "nice": false, "zero": false},
               "axis": {"orient": "left", "offset": -71.5, "values": [0, 2, 4, 6], "format": "d", "title": "TN (mg/L)", "titleAngle": 270, "titleBaseline": "middle", "titleX": -32.5, "titleY": 152, "tickSize": -3, "labelPadding": 5.5}},
             "stroke": {"datum": "Simulated", "type": "nominal", "scale": {"range": ["#0000FF"]},
               "legend": {"orient": "none", "legendX": 416.5, "legendY": 22, "title": null, "symbolType": "M-1,0H1", "symbolSize": 625, "symbolStrokeWidth": 2.6, "labelFontSize": 13.5, "labelFont": "Liberation Sans", "labelColor": "#222222", "labelOffset": 1.5, "padding": 0}}}},
          {"data": {"name": "tn_obs"}, "mark": {"type": "point", "shape": "M-0.9,0A0.9,1 0 1,0 0.9,0A0.9,1 0 1,0 -0.9,0Z", "size": 144, "filled": false, "strokeWidth": 1.2, "opacity": 1},
           "encoding": {
             "x": {"field": "d", "type": "temporal"},
             "y": {"field": "v", "type": "quantitative"},
             "color": {"datum": "Observed", "type": "nominal", "scale": {"range": ["#FF0000"]},
               "legend": {"orient": "none", "legendX": 315.5, "legendY": 22.5, "title": null, "symbolType": "M-0.34,0A0.34,0.44 0 1,0 0.34,0A0.34,0.44 0 1,0 -0.34,0Z", "symbolSize": 625, "symbolStrokeWidth": 1.2, "labelFontSize": 13.5, "labelFont": "Liberation Sans", "labelColor": "#222222", "labelOffset": 3.5, "padding": 0}}}}
        ]}
      ],
      "resolve": {"scale": {"y": "independent", "shape": "independent"}}
    },
    {
      "width": 594, "height": 305,
      "view": {"strokeDash": [594, 899, 305, 0]},
      "layer": [
        {"data": {"values": [{"s": "방류구"}]}, "mark": {"type": "point", "opacity": 0},
         "encoding": {"shape": {"field": "s", "type": "nominal", "scale": {"range": ["M0,-1V1"]},
           "legend": {"orient": "none", "legendX": 90, "legendY": 15.5, "title": null, "fillColor": "#000000", "strokeColor": "#000000", "padding": 3.5, "symbolSize": 1089, "symbolOpacity": 0, "symbolStrokeWidth": 0, "labelOffset": -33, "labelFont": "Noto Sans CJK KR", "labelFontWeight": "bold", "labelFontSize": 19, "labelColor": "#000000", "labelLimit": 300}}}},
        {"data": {"values": [{"t": "방류구"}]}, "mark": {"type": "point", "opacity": 0},
         "encoding": {"shape": {"field": "t", "type": "nominal", "scale": {"range": ["M0,-1V1"]},
           "legend": {"orient": "none", "legendX": 86.5, "legendY": 12, "title": null, "fillColor": "#ffffff", "strokeColor": "#111111", "padding": 3.5, "symbolSize": 1089, "symbolOpacity": 0, "symbolStrokeWidth": 0, "labelOffset": -33, "labelFont": "Noto Sans CJK KR", "labelFontWeight": "bold", "labelFontSize": 19, "labelColor": "#000000", "labelLimit": 300}}}},
        {"layer": [
          {"data": {"name": "frame"}, "mark": {"type": "rule", "color": "#9a9a9a", "strokeWidth": 1.5},
           "encoding": {"x": {"field": "a", "type": "temporal"}, "x2": {"field": "b"}, "y": {"field": "z", "type": "quantitative"}}},
          {"data": {"name": "rain"}, "mark": {"type": "bar", "width": 1.3},
           "encoding": {
             "x": {"field": "d", "type": "temporal",
               "scale": {"domain": [{"year": 2003, "month": 1, "date": 1}, {"year": 2006, "month": 1, "date": 1}], "range": [85.8, 518.6]},
               "axis": {"orient": "bottom", "offset": -62, "title": null, "ticks": false, "labelAngle": 270, "labelAlign": "right", "labelBaseline": "middle", "labelPadding": 6,
                 "labelExpr": "substring(timeFormat(datum.value, '%b'), 0, 1) + '–' + timeFormat(datum.value, '%y')",
                 "values": [{"year":2003,"month":1,"date":1},{"year":2003,"month":4,"date":1},{"year":2003,"month":7,"date":1},{"year":2003,"month":10,"date":1},{"year":2004,"month":1,"date":1},{"year":2004,"month":4,"date":1},{"year":2004,"month":7,"date":1},{"year":2004,"month":10,"date":1},{"year":2005,"month":1,"date":1},{"year":2005,"month":4,"date":1},{"year":2005,"month":7,"date":1},{"year":2005,"month":10,"date":1}]}},
             "y": {"field": "r", "type": "quantitative", "scale": {"domain": [0, 400], "range": [57, 243], "nice": false},
               "axis": {"orient": "right", "offset": -75.4, "values": [0, 100, 200, 300, 400], "title": "Rainfall (mm)", "titleAngle": 270, "titleBaseline": "middle", "titleX": 43, "titleY": 153, "tickSize": -3, "labelPadding": 9}},
             "fill": {"datum": "Rainfall", "type": "nominal", "scale": {"range": ["#FFCC00"]},
               "legend": {"orient": "none", "legendX": 232, "legendY": 23.5, "title": null, "symbolType": "M-1,-0.46H1V0.46H-1Z", "symbolSize": 625, "symbolStrokeWidth": 0, "labelFontSize": 13.5, "labelFont": "Liberation Sans", "labelColor": "#222222", "labelOffset": 3, "padding": 0}}
           }}
        ]},
        {"layer": [
          {"data": {"name": "tp_sim"}, "mark": {"type": "line", "strokeWidth": 2.6},
           "encoding": {
             "x": {"field": "d", "type": "temporal"},
             "y": {"field": "v", "type": "quantitative", "scale": {"domain": [0, 0.06], "range": [243, 57], "nice": false, "zero": false},
               "axis": {"orient": "left", "offset": -85.8, "values": [0, 0.02, 0.04, 0.06], "format": ".2f", "title": "TP (mg/L)", "titleAngle": 270, "titleBaseline": "middle", "titleX": -49, "titleY": 152, "tickSize": -3, "labelPadding": 5.5}},
             "stroke": {"datum": "Simulated", "type": "nominal", "scale": {"range": ["#0000FF"]},
               "legend": {"orient": "none", "legendX": 416.5, "legendY": 22, "title": null, "symbolType": "M-1,0H1", "symbolSize": 625, "symbolStrokeWidth": 2.6, "labelFontSize": 13.5, "labelFont": "Liberation Sans", "labelColor": "#222222", "labelOffset": 1.5, "padding": 0}}}},
          {"data": {"name": "tp_obs"}, "mark": {"type": "point", "shape": "M-0.9,0A0.9,1 0 1,0 0.9,0A0.9,1 0 1,0 -0.9,0Z", "size": 144, "filled": false, "strokeWidth": 1.2, "opacity": 1},
           "encoding": {
             "x": {"field": "d", "type": "temporal"},
             "y": {"field": "v", "type": "quantitative"},
             "color": {"datum": "Observed", "type": "nominal", "scale": {"range": ["#FF0000"]},
               "legend": {"orient": "none", "legendX": 315.5, "legendY": 22.5, "title": null, "symbolType": "M-0.34,0A0.34,0.44 0 1,0 0.34,0A0.34,0.44 0 1,0 -0.34,0Z", "symbolSize": 625, "symbolStrokeWidth": 1.2, "labelFontSize": 13.5, "labelFont": "Liberation Sans", "labelColor": "#222222", "labelOffset": 3.5, "padding": 0}}}}
        ]}
      ],
      "resolve": {"scale": {"y": "independent", "shape": "independent"}}
    }
  ],
  "resolve": {"scale": {"color": "independent", "fill": "independent", "stroke": "independent", "shape": "independent"}},
  "config": {
    "font": "Liberation Sans",
    "view": {"stroke": "#3c3c3c", "strokeWidth": 1.2},
    "axis": {"grid": false, "labelFont": "Liberation Sans", "labelFontSize": 13, "labelColor": "#333333", "titleFont": "Liberation Sans", "titleFontSize": 16.5, "titleFontWeight": "normal", "titleColor": "#333333", "domainColor": "#000000", "domainWidth": 1.2, "tickColor": "#333333", "labelFlush": false, "labelOverlap": false}
  }
}
